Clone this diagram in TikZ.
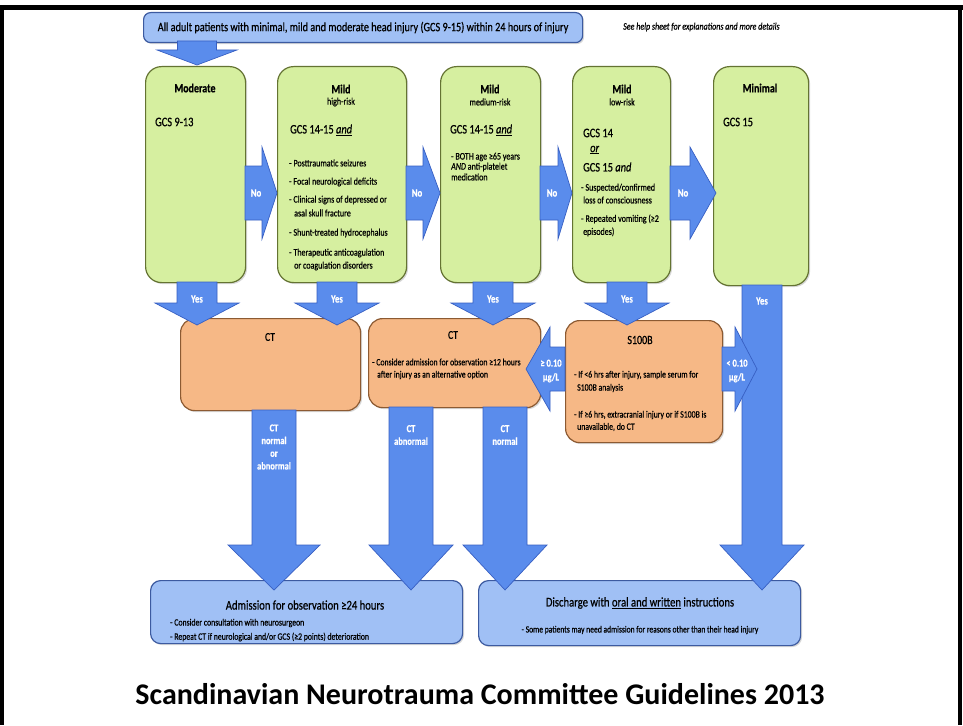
\documentclass[tikz,border=0pt]{standalone}
\usepackage{fontspec}
\setmainfont{Carlito}
\newfontfamily\cond[FakeStretch=0.8,FakeBold=0.6]{Carlito}
\usetikzlibrary{shadows}
\definecolor{gfill}{RGB}{214,239,160}
\definecolor{gline}{RGB}{100,115,50}
\definecolor{ofill}{RGB}{246,184,134}
\definecolor{oline}{RGB}{140,90,50}
\definecolor{ablue}{RGB}{90,140,236}
\definecolor{aline}{RGB}{55,95,195}
\definecolor{lbfill}{RGB}{160,192,245}
\definecolor{lbline}{RGB}{60,90,160}
\newcommand\darr[6]{% cx, y0, yhead, ytip, shaft half, head half
  \filldraw[arrowblk] ({#1-#5},#2) -- ({#1+#5},#2) -- ({#1+#5},#3) -- ({#1+#6},#3) -- (#1,#4) -- ({#1-#6},#3) -- ({#1-#5},#3) -- cycle;}
\newcommand\harr[6]{% cy, x0, xhead, xtip, shaft half, head half
  \filldraw[arrowblk] (#2,{#1-#5}) -- (#3,{#1-#5}) -- (#3,{#1-#6}) -- (#4,#1) -- (#3,{#1+#6}) -- (#3,{#1+#5}) -- (#2,{#1+#5}) -- cycle;}
\begin{document}
\begin{tikzpicture}[x=1pt,y=-1pt,
  boxbase/.style={draw, line width=1.2pt, inner sep=0pt, anchor=north west,
     drop shadow={shadow xshift=1.5pt, shadow yshift=-1.5pt, opacity=0.3}},
  greenbox/.style={boxbase, fill=gfill, draw=gline, rounded corners=16pt},
  orangebox/.style={boxbase, fill=ofill, draw=oline, rounded corners=14pt},
  bluebox/.style={boxbase, fill=lbfill, draw=lbline, rounded corners=10pt},
  arrowblk/.style={fill=ablue, draw=aline, line width=0.7pt, line join=miter},
  hd/.style={font=\cond\bfseries\fontsize{12.5}{14}\selectfont, inner sep=0pt},
  sub/.style={font=\cond\fontsize{10}{11}\selectfont, inner sep=0pt},
  gcs/.style={font=\cond\fontsize{13}{15}\selectfont, inner sep=0pt, anchor=west},
  bul/.style={font=\cond\fontsize{10}{11}\selectfont, inner sep=0pt, anchor=west},
  obul/.style={font=\cond\fontsize{9.7}{11}\selectfont, inner sep=0pt, anchor=west},
  albl/.style={font=\cond\bfseries\fontsize{11}{12}\selectfont, text=white, inner sep=0pt},
  ]
\useasboundingbox (0,0) rectangle (963,725);
\fill[white] (0,0) rectangle (963,725);
\fill[black] (0,5) rectangle (963,10);
\fill[black] (0,5) rectangle (4,725);
\fill[black] (958,5) rectangle (962,725);

% top bar
\node[bluebox, minimum width=439pt, minimum height=30pt, rounded corners=7pt] (top) at (143,12) {};
\node[font=\cond\fontsize{12.8}{14}\selectfont, inner sep=0pt] at (top.center) {All adult patients with minimal, mild and moderate head injury (GCS 9-15) within 24 hours of injury};
\node[font=\cond\itshape\fontsize{10}{11}\selectfont, inner sep=0pt, anchor=west] (help) at (623,27) {See help sheet for explanations and more details};

% green boxes
\node[greenbox, minimum width=100pt, minimum height=216pt] (mod) at (145,66) {};
\node[greenbox, minimum width=129pt, minimum height=216pt] (mh) at (277,66) {};
\node[greenbox, minimum width=100pt, minimum height=216pt] (mm) at (440,66) {};
\node[greenbox, minimum width=98pt, minimum height=216pt] (ml) at (572,66) {};
\node[greenbox, minimum width=95pt, minimum height=219pt] (min) at (713,66) {};

% arrow from top bar to Moderate
\darr{197}{41}{50}{65}{19.5}{40}

% Moderate
\node[hd] at (195,88) {Moderate};
\node[gcs] at (155,122) {GCS 9-13};
% Mild high
\node[hd] at (341,89) {Mild};
\node[sub] at (341,102) {high-risk};
\node[gcs] at (290,130) {GCS 14-15 \underline{\textit{and}}};
\node[bul] at (289,163) {- Posttraumatic seizures};
\node[bul] at (289,182) {- Focal neurological deficits};
\node[bul] at (289,200) {- Clinical signs of depressed or};
\node[bul] at (294,213) {asal skull fracture};
\node[bul] at (289,233) {- Shunt-treated hydrocephalus};
\node[bul] at (289,253) {- Therapeutic anticoagulation};
\node[bul] at (294,266) {or coagulation disorders};
% Mild medium
\node[hd] at (490,89) {Mild};
\node[sub] at (490,102) {medium-risk};
\node[gcs] at (450,130) {GCS 14-15 \underline{\textit{and}}};
\node[bul] at (451,157) {- BOTH age ≥65 years};
\node[bul] at (451,167) {\textit{AND} anti-platelet};
\node[bul] at (451,177) {medication};
% Mild low
\node[hd] at (622,89) {Mild};
\node[sub] at (622,102) {low-risk};
\node[gcs] at (583,133) {GCS 14};
\node[gcs] at (590,150) {\underline{\textit{or}}};
\node[gcs] at (583,167) {GCS 15 \textit{and}};
\node[bul] at (581,188) {- Suspected/confirmed};
\node[bul] at (583,200) {loss of consciousness};
\node[bul] at (581,219) {- Repeated vomiting (≥2};
\node[bul] at (583,232) {episodes)};
% Minimal
\node[hd] at (760,88) {Minimal};
\node[gcs] at (723,122) {GCS 15};

% No arrows
\harr{193}{245}{262}{277}{27}{46}
\node[albl] at (256,193) {No};
\harr{193}{406}{423}{440}{27}{46}
\node[albl] at (417,193) {No};
\harr{193}{540}{558}{572}{27}{46}
\node[albl] at (552,193) {No};
\harr{193}{670}{690}{716}{27}{46}
\node[albl] at (683,193) {No};

% orange boxes
\node[orangebox, minimum width=180pt, minimum height=92pt] (ct1) at (180,318) {};
\node[orangebox, minimum width=172pt, minimum height=89pt] (ct2) at (368,318) {};
\node[orangebox, minimum width=157pt, minimum height=122pt] (s100) at (565,320) {};
\node[hd, font=\cond\fontsize{12}{13}\selectfont] at (270,337) {CT};
\node[hd, font=\cond\fontsize{12}{13}\selectfont] at (453,335) {CT};
\node[obul] at (372,362) {- Consider admission for observation ≥12 hours};
\node[obul] at (377,375) {after injury as an alternative option};
\node[hd, font=\cond\fontsize{12.5}{13}\selectfont] at (640,340) {S100B};
\node[obul] at (574,375) {- If <6 hrs after injury, sample serum for};
\node[obul] at (577,388) {S100B analysis};
\node[obul] at (574,415) {- If ≥6 hrs, extracranial injury or if S100B is};
\node[obul] at (577,427) {unavailable, do CT};

% Yes arrows
\darr{197}{282}{303}{325}{20}{42}
\node[albl] at (197,299) {Yes};
\darr{337}{282}{303}{325}{20}{42}
\node[albl] at (337,299) {Yes};
\darr{493}{282}{303}{325}{20}{42}
\node[albl] at (493,299) {Yes};
\darr{627}{282}{303}{325}{20}{42}

% bottom boxes
\node[bluebox, minimum width=312pt, minimum height=63pt] (adm) at (150,580) {};
\node[bluebox, minimum width=322pt, minimum height=65pt] (dis) at (478,580) {};
\node[font=\cond\fontsize{13.3}{15}\selectfont, inner sep=0pt] at (305,605) {Admission for observation ≥24 hours};
\node[obul] at (170,623) {- Consider consultation with neurosurgeon};
\node[obul] at (170,637) {- Repeat CT if neurological and/or GCS (≥2 points) deterioration};
\node[font=\cond\fontsize{13.3}{15}\selectfont, inner sep=0pt] at (640,603) {Discharge with \underline{oral and written} instructions};
\node[font=\cond\fontsize{9.5}{11}\selectfont, inner sep=0pt] at (640,630) {- Some patients may need admission for reasons other than their head injury};

% Minimal long arrow
\darr{762}{285}{545}{590}{20}{42}
\node[albl] at (762,301) {Yes};
\node[albl] at (627,299) {Yes};

% S100B side arrows
\harr{369}{565}{550}{526}{22}{42}
\node[albl, align=center, font=\cond\bfseries\fontsize{10.5}{14}\selectfont] at (551,371) {≥ 0.10\\µg/L};
\harr{369}{722}{735}{757}{22}{42}
\node[albl, align=center, font=\cond\bfseries\fontsize{10.5}{14}\selectfont] at (737,371) {< 0.10\\µg/L};

% CT down arrows
\darr{274}{410}{545}{590}{22}{46}
\node[albl, align=center, font=\cond\bfseries\fontsize{10.5}{12.7}\selectfont] at (274,447) {CT\\normal\\or\\abnormal};
\darr{411}{407}{545}{590}{22}{42}
\node[albl, align=center, font=\cond\bfseries\fontsize{10.5}{12.7}\selectfont] at (411,435) {CT\\abnormal};
\darr{505}{407}{545}{590}{22}{42}
\node[albl, align=center, font=\cond\bfseries\fontsize{10.5}{12.7}\selectfont] at (505,435) {CT\\normal};

% title
\node[font=\bfseries\fontsize{30}{34}\selectfont, inner sep=0pt] (title) at (480,694) {Scandinavian Neurotrauma Committee Guidelines 2013};
\end{tikzpicture}
\end{document}
